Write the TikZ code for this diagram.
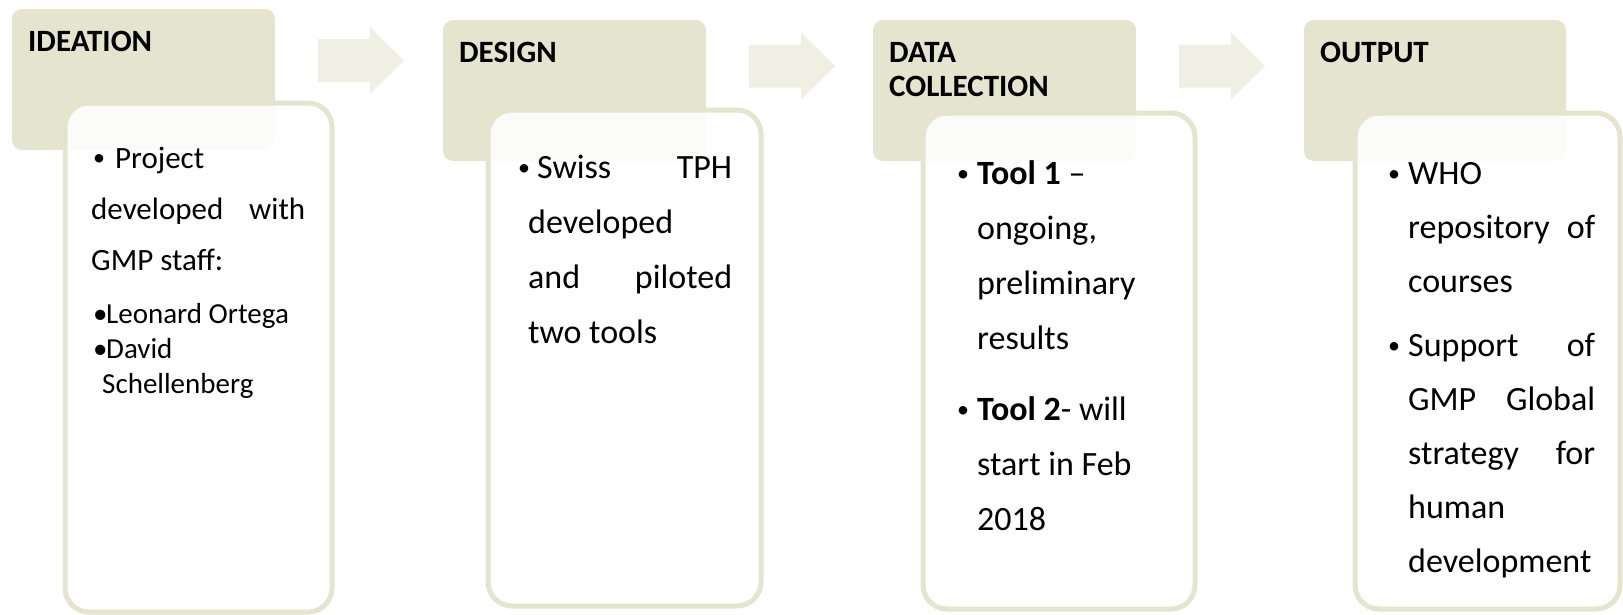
\documentclass[tikz,border=0pt]{standalone}
\usepackage{fontspec}
\setmainfont{Carlito}
\usepackage{xcolor}
\usepackage{tikz}
\definecolor{headOlive}{RGB}{229,228,206}
\definecolor{arrowOlive}{RGB}{239,239,228}
\newcommand{\spreadline}[2]{\noindent\hbox to \linewidth{#1\hfill #2}}
\newcommand{\dotglyph}{\raisebox{3pt}{\fontsize{24}{24}\selectfont\textbullet}}
\newcommand{\bulmark}[1]{\makebox[#1][l]{\dotglyph}}
\newcommand{\subbul}[1]{\makebox[#1][l]{\textbullet}}
\newcommand{\bulpt}{\leavevmode\llap{\bulmark{20pt}}}

\begin{document}
\begin{tikzpicture}[x=1pt, y=-1pt,
	headbox/.style={fill=headOlive, rounded corners=10pt, anchor=north west, inner sep=0, outer sep=0, minimum width=263pt, minimum height=141pt},
	cardbox/.style={draw=headOlive, line width=5pt, fill=white, fill opacity=0.88, rounded corners=24pt, anchor=north west, inner sep=0, outer sep=0},
	titletext/.style={anchor=base west, inner sep=0, font=\bfseries\fontsize{31}{34}\selectfont},
	bodytext/.style={anchor=base west, inner sep=0, font=\fontsize{34}{55}\selectfont},
	arrowfill/.style={fill=arrowOlive}]
	\useasboundingbox (0,0) rectangle (1623,614);

	% arrows between the stages
	\foreach \ax/\ay in {318/60.5, 749/66, 1179/66}
		\fill[arrowfill] (\ax,\ay-21.5) -- (\ax+52,\ay-21.5) -- (\ax+52,\ay-33.5) -- (\ax+86,\ay)
			-- (\ax+52,\ay+33.5) -- (\ax+52,\ay+21.5) -- (\ax,\ay+21.5) -- cycle;

	% headers
	\node[headbox] (ideaHead) at (12,9) {};
	\node[headbox] (designHead) at (443,20) {};
	\node[headbox] (dataHead) at (873,20) {};
	\node[headbox, minimum width=262pt] (outputHead) at (1304,20) {};

	% cards
	\node[cardbox, minimum width=267pt, minimum height=509pt] (ideaCard) at (65,103) {};
	\node[cardbox, minimum width=273pt, minimum height=496pt] (designCard) at (488,110) {};
	\node[cardbox, minimum width=272pt, minimum height=496pt] (dataCard) at (923,113) {};
	\node[cardbox, minimum width=265pt, minimum height=496pt] (outputCard) at (1355,113) {};

	% titles
	\node[titletext] (ideaTitle) at (28,51) {IDEATION};
	\node[titletext] (designTitle) at (459,62.6) {DESIGN};
	\node[titletext] (dataTitle) at (889,62.6) {\parbox[t]{220pt}{DATA\\COLLECTION}};
	\node[titletext] (outputTitle) at (1320,62.6) {OUTPUT};

	% card texts
	\node[bodytext, font=\fontsize{31}{51}\selectfont] (ideaText) at (91,168)
		{\parbox[t]{214pt}{\hspace*{2pt}\bulmark{22pt}Project\\ \spreadline{developed}{with}\\ GMP staff:}};
	\node[bodytext, font=\fontsize{29}{35}\selectfont] (ideaNames) at (102,323)
		{\parbox[t]{220pt}{\hspace*{-9pt}\subbul{13pt}Leonard Ortega\\ \hspace*{-9pt}\subbul{13pt}David\\ Schellenberg}};
	\node[bodytext] (designText) at (528,178)
		{\parbox[t]{204pt}{\spreadline{\hspace*{-10pt}\bulmark{19pt}Swiss}{TPH}\\ developed\\ \spreadline{and}{piloted}\\ two tools}};
	\node[bodytext] (dataText) at (977,184)
		{\parbox[t]{200pt}{\bulpt\textbf{Tool 1} –\\ ongoing,\\ preliminary\\ results\\[16pt] \bulpt\textbf{Tool 2}- will\\ start in Feb\\ 2018}};
	\node[bodytext, font=\fontsize{34}{54}\selectfont] (outputText) at (1408,184)
		{\parbox[t]{187pt}{\bulpt WHO\\ \spreadline{repository}{of}\\ courses\\[10pt] \bulpt\spreadline{Support}{of}\\ \spreadline{GMP}{Global}\\ \spreadline{strategy}{for}\\ human\\ development}};
\end{tikzpicture}
\end{document}
